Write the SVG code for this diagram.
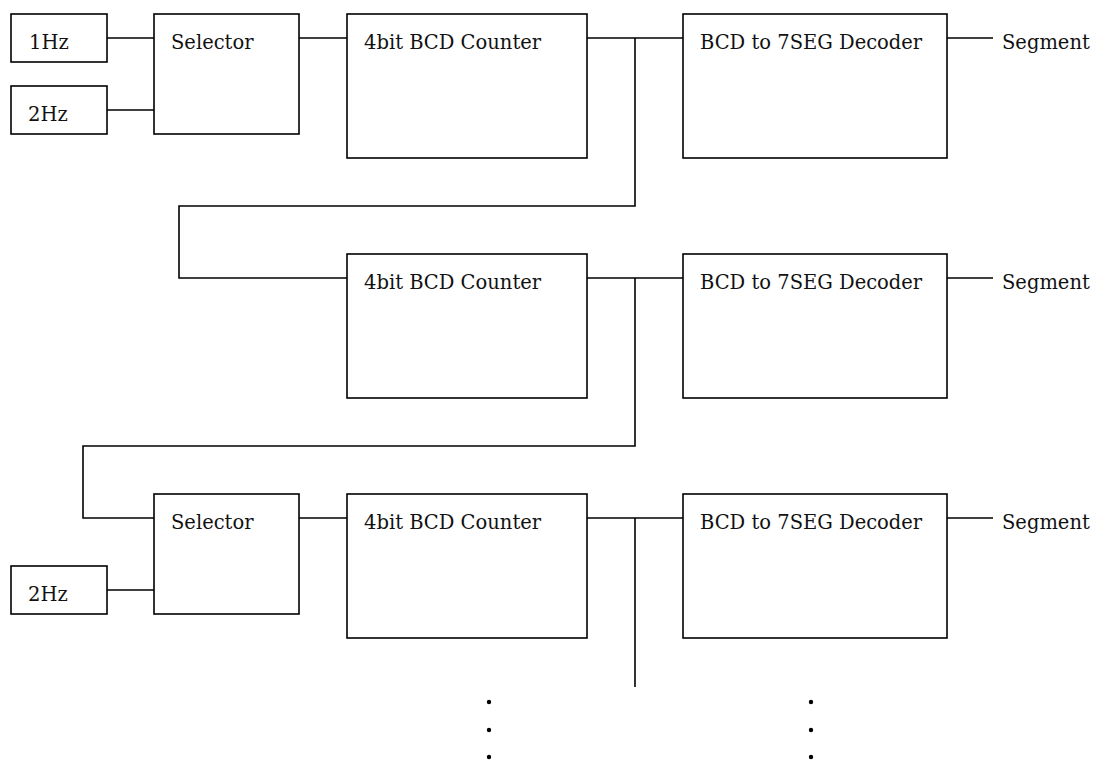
<svg xmlns="http://www.w3.org/2000/svg" width="1103" height="760" viewBox="0 0 1103 760">
<style>
.b{fill:#fff;stroke:#000;stroke-width:1.6}
.w{fill:none;stroke:#000;stroke-width:1.6}
.t{font-family:"DejaVu Serif","Liberation Serif",serif;font-size:19.5px;fill:#111}
.d{fill:#000}
</style>
<rect width="1103" height="760" fill="#fff"/>
<g id="connectors">
<path class="w" d="M107 38H154M107 110H154M299 38H347M587 38H683M635 38V206H179V278H347M947 38H993"/>
<path class="w" d="M587 278H683M635 278V446H83V518H154M947 278H993"/>
<path class="w" d="M107 590H154M299 518H347M587 518H683M635 518V687M947 518H993"/>
</g>
<g id="hz1"><rect class="b" x="11" y="14" width="96" height="48"/><text class="t" x="29" y="49">1Hz</text></g>
<g id="hz2a"><rect class="b" x="11" y="86" width="96" height="48"/><text class="t" x="28" y="121">2Hz</text></g>
<g id="sel1"><rect class="b" x="154" y="14" width="145" height="120"/><text class="t" x="171" y="49">Selector</text></g>
<g id="cnt1"><rect class="b" x="347" y="14" width="240" height="144"/><text class="t" x="364" y="49">4bit BCD Counter</text></g>
<g id="dec1"><rect class="b" x="683" y="14" width="264" height="144"/><text class="t" x="700" y="49">BCD to 7SEG Decoder</text></g>
<g id="seg1"><text class="t" x="1002" y="49">Segment</text></g>
<g id="cnt2"><rect class="b" x="347" y="254" width="240" height="144"/><text class="t" x="364" y="289">4bit BCD Counter</text></g>
<g id="dec2"><rect class="b" x="683" y="254" width="264" height="144"/><text class="t" x="700" y="289">BCD to 7SEG Decoder</text></g>
<g id="seg2"><text class="t" x="1002" y="289">Segment</text></g>
<g id="hz2b"><rect class="b" x="11" y="566" width="96" height="48"/><text class="t" x="28" y="601">2Hz</text></g>
<g id="sel3"><rect class="b" x="154" y="494" width="145" height="120"/><text class="t" x="171" y="529">Selector</text></g>
<g id="cnt3"><rect class="b" x="347" y="494" width="240" height="144"/><text class="t" x="364" y="529">4bit BCD Counter</text></g>
<g id="dec3"><rect class="b" x="683" y="494" width="264" height="144"/><text class="t" x="700" y="529">BCD to 7SEG Decoder</text></g>
<g id="seg3"><text class="t" x="1002" y="529">Segment</text></g>
<g id="dots">
<circle class="d" cx="489" cy="702" r="2.2"/><circle class="d" cx="489" cy="730" r="2.2"/><circle class="d" cx="489" cy="757" r="2.2"/>
<circle class="d" cx="811" cy="702" r="2.2"/><circle class="d" cx="811" cy="730" r="2.2"/><circle class="d" cx="811" cy="757" r="2.2"/>
</g>
</svg>
